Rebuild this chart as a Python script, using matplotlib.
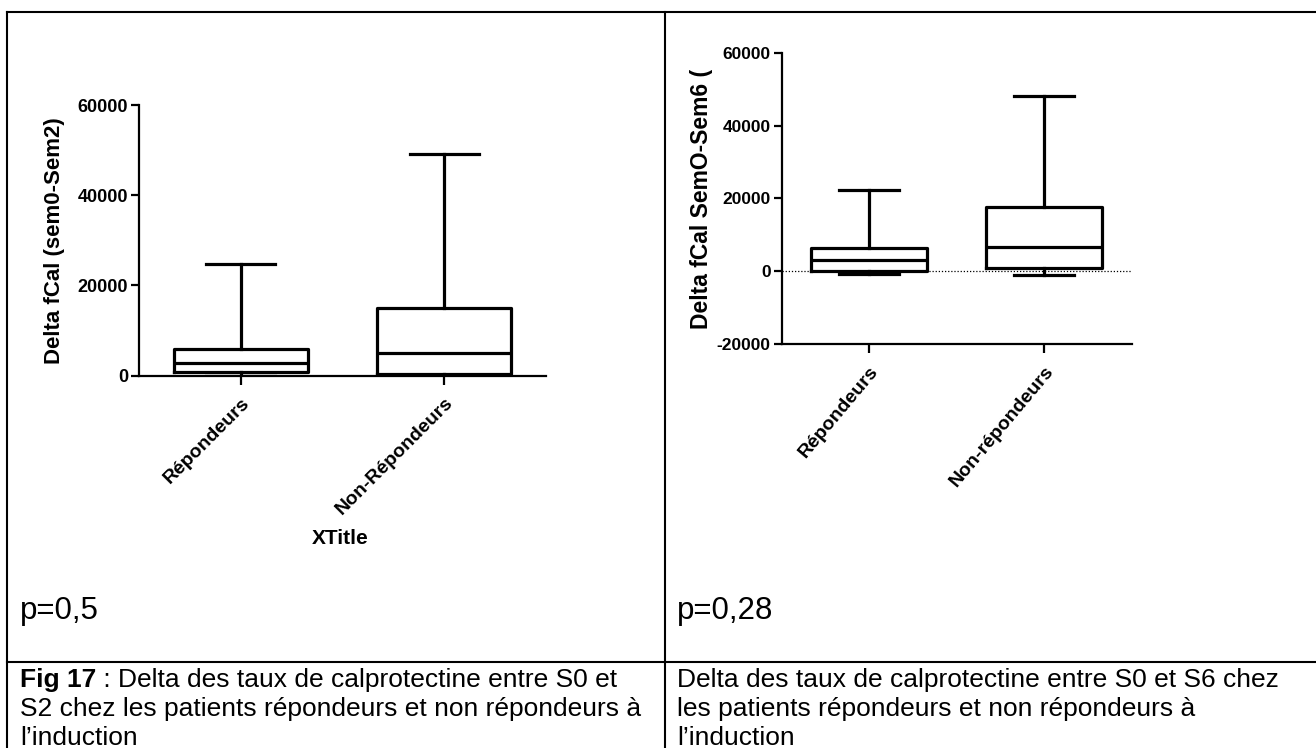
import matplotlib
matplotlib.use("Agg")
import matplotlib.pyplot as plt
from matplotlib.lines import Line2D

plt.rcParams["font.family"] = ["Liberation Sans", "DejaVu Sans"]

# left panel: delta S0-S2
left_labels = ["Répondeurs", "Non-Répondeurs"]
left_min = [0, 0]
left_q1 = [900, 350]
left_med = [2850, 4950]
left_q3 = [5900, 14950]
left_max = [24800, 49100]
left_ticks = [0, 20000, 40000, 60000]

# right panel: delta S0-S6
right_labels = ["Répondeurs", "Non-répondeurs"]
right_min = [-700, -1000]
right_q1 = [150, 1000]
right_med = [3000, 6800]
right_q3 = [6500, 17600]
right_max = [22200, 48200]
right_ticks = [-20000, 0, 20000, 40000, 60000]

W, H = 1316, 748
fig = plt.figure(figsize=(W / 100, H / 100), dpi=100)


def fx(x):
    return x / W


def fy(y):
    return 1 - y / H


def make_stats(labels, mins, q1, med, q3, maxs):
    return [
        {"label": lab, "whislo": lo, "q1": a, "med": m, "q3": b, "whishi": hi, "fliers": []}
        for lab, lo, a, m, b, hi in zip(labels, mins, q1, med, q3, maxs)
    ]


def draw_box(ax, stats, ticks, ysize, xsize, xrot, lw=2.3):
    props = dict(color="black", linewidth=lw)
    ax.bxp(stats, positions=[1, 2], widths=0.66, capwidths=0.34,
           showfliers=False, boxprops=props, whiskerprops=props,
           capprops=props, medianprops=props)
    ax.set_xlim(0.5, 2.5)
    ax.set_ylim(ticks[0], ticks[-1])
    ax.set_yticks(ticks)
    ax.set_yticklabels([str(t) for t in ticks], fontsize=ysize, fontweight="bold")
    ax.set_xticks([1, 2])
    ax.set_xticklabels([s["label"] for s in stats], rotation=xrot, ha="right",
                       rotation_mode="anchor", fontsize=xsize, fontweight="bold")
    for side in ("top", "right"):
        ax.spines[side].set_visible(False)
    for side in ("left", "bottom"):
        ax.spines[side].set_linewidth(1.6)
    ax.tick_params(direction="out", length=5.5, width=1.6, pad=2.5)
    ax.tick_params(axis="x", length=6.5, pad=7)
    ax.set_facecolor("none")


# left chart
ax1 = fig.add_axes([fx(139), fy(375.7), fx(546) - fx(139), fy(105) - fy(375.7)])
draw_box(ax1, make_stats(left_labels, left_min, left_q1, left_med, left_q3, left_max),
         left_ticks, 13, 14, 45)
ax1.set_ylabel("Delta fCal (sem0-Sem2)", fontsize=16, fontweight="bold")
ax1.yaxis.set_label_coords((65 - 139) / (546 - 139), 0.5)
fig.text(fx(340), fy(538), "XTitle", fontsize=15, fontweight="bold", ha="center", va="center")

# right chart
ax2 = fig.add_axes([fx(781.7), fy(344.3), fx(1131.7) - fx(781.7), fy(52.7) - fy(344.3)])
ax2.axhline(0, color="black", linewidth=0.9, linestyle=(0, (1, 1.5)), zorder=0)
draw_box(ax2, make_stats(right_labels, right_min, right_q1, right_med, right_q3, right_max),
         right_ticks, 12.5, 14, 50)
ax2.set_ylabel("Delta fCal SemO-Sem6 (", fontsize=16.5, fontweight="bold")
ax2.yaxis.set_label_coords((713 - 781.7) / (1131.7 - 781.7), 0.5)

# table borders
border = dict(color="black", linewidth=1.5)
fig.add_artist(Line2D([fx(7), 1], [fy(12), fy(12)], **border))
fig.add_artist(Line2D([fx(7), fx(7)], [fy(12), 0], **border))
fig.add_artist(Line2D([fx(665), fx(665)], [fy(12), 0], **border))
fig.add_artist(Line2D([fx(7), 1], [fy(662), fy(662)], **border))

# p-values
fig.text(fx(20), fy(619), "p=0,5", fontsize=22.5, va="baseline")
fig.text(fx(677), fy(619), "p=0,28", fontsize=22.5, va="baseline")

# captions
cap_size = 19
line_h = 29
fig.canvas.draw()
renderer = fig.canvas.get_renderer()
bold = fig.text(fx(20), fy(687), "Fig 17", fontsize=cap_size, fontweight="bold", va="baseline")
bb = bold.get_window_extent(renderer)
fig.text(bb.x1 / W, fy(687), " : Delta des taux de calprotectine entre S0 et",
         fontsize=cap_size, va="baseline")
fig.text(fx(20), fy(687 + line_h), "S2 chez les patients répondeurs et non répondeurs à",
         fontsize=cap_size, va="baseline")
fig.text(fx(20), fy(687 + 2 * line_h), "l’induction", fontsize=cap_size, va="baseline")

right_lines = ["Delta des taux de calprotectine entre S0 et S6 chez",
               "les patients répondeurs et non répondeurs à",
               "l’induction"]
for i, line in enumerate(right_lines):
    fig.text(fx(677), fy(687 + i * line_h), line, fontsize=cap_size, va="baseline")

fig.savefig("out.png", dpi=100)
